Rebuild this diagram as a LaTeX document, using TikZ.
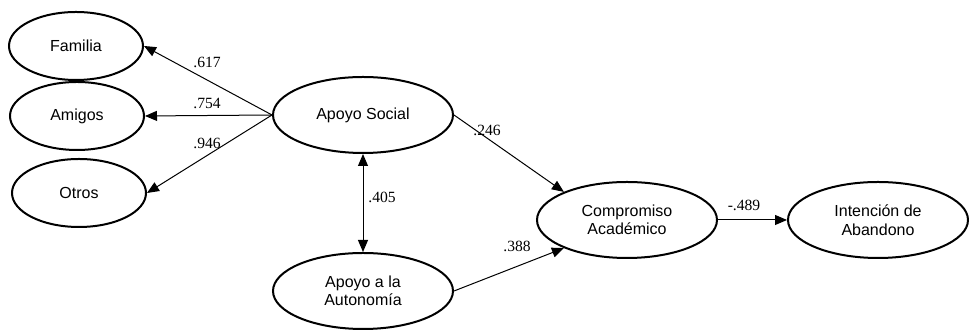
\documentclass[tikz,border=0pt]{standalone}
\usepackage{fontspec}
\setmainfont{Liberation Serif}
\setsansfont{Liberation Sans}
\usetikzlibrary{shapes.geometric, arrows.meta}

\tikzset{
  latent/.style={ellipse, draw, line width=1pt, inner sep=0pt,
    minimum width=90pt, minimum height=38pt, align=center,
    font=\sffamily\fontsize{8}{9.2}\selectfont},
  indicator/.style={latent, minimum width=67pt, minimum height=34pt},
  path/.style={-{Triangle[length=6pt, width=5pt]}, line width=0.5pt},
  covpath/.style={{Triangle[length=6pt, width=5pt]}-{Triangle[length=6pt, width=5pt]}, line width=0.5pt},
  coef/.style={font=\fontsize{7.8}{9}\selectfont, inner sep=0pt}
}

\begin{document}
\begin{tikzpicture}[x=0.5pt, y=0.5pt]

  \useasboundingbox (0,0) rectangle (969,330);

  % Latent variables
  \node[latent] (social) at (363,215) {Apoyo Social};
  \node[latent] (auton)  at (363,39)  {Apoyo a la\\Autonomía};
  \node[latent] (comp)   at (627,110) {Compromiso\\Académico};
  \node[latent] (inten)  at (878,110) {Intención de\\Abandono};

  % Indicators of Apoyo Social
  \foreach \n/\t/\x/\y/\w/\ly in {familia/Familia/76/284/.617/268,
                                 amigos/Amigos/77/214/.754/227,
                                 otros/Otros/79/137/.946/187} {
    \node[indicator] (\n) at (\x,\y) {\t};
    \draw[path] (social.west) -- (\n.east);
    \node[coef] at (207,\ly) {\w};
  }

  % Structural paths
  \draw[path] (social.east) -- (comp.156);
  \draw[path] (auton.east) -- (comp.204);
  \draw[path] (comp.east) -- (inten.west);
  \draw[covpath] (social.south) -- (auton.north);

  % Path coefficients
  \node[coef] at (487,200) {.246};
  \node[coef] at (382,133) {.405};
  \node[coef] at (517,84)  {.388};
  \node[coef] at (744,125) {-.489};

\end{tikzpicture}
\end{document}
